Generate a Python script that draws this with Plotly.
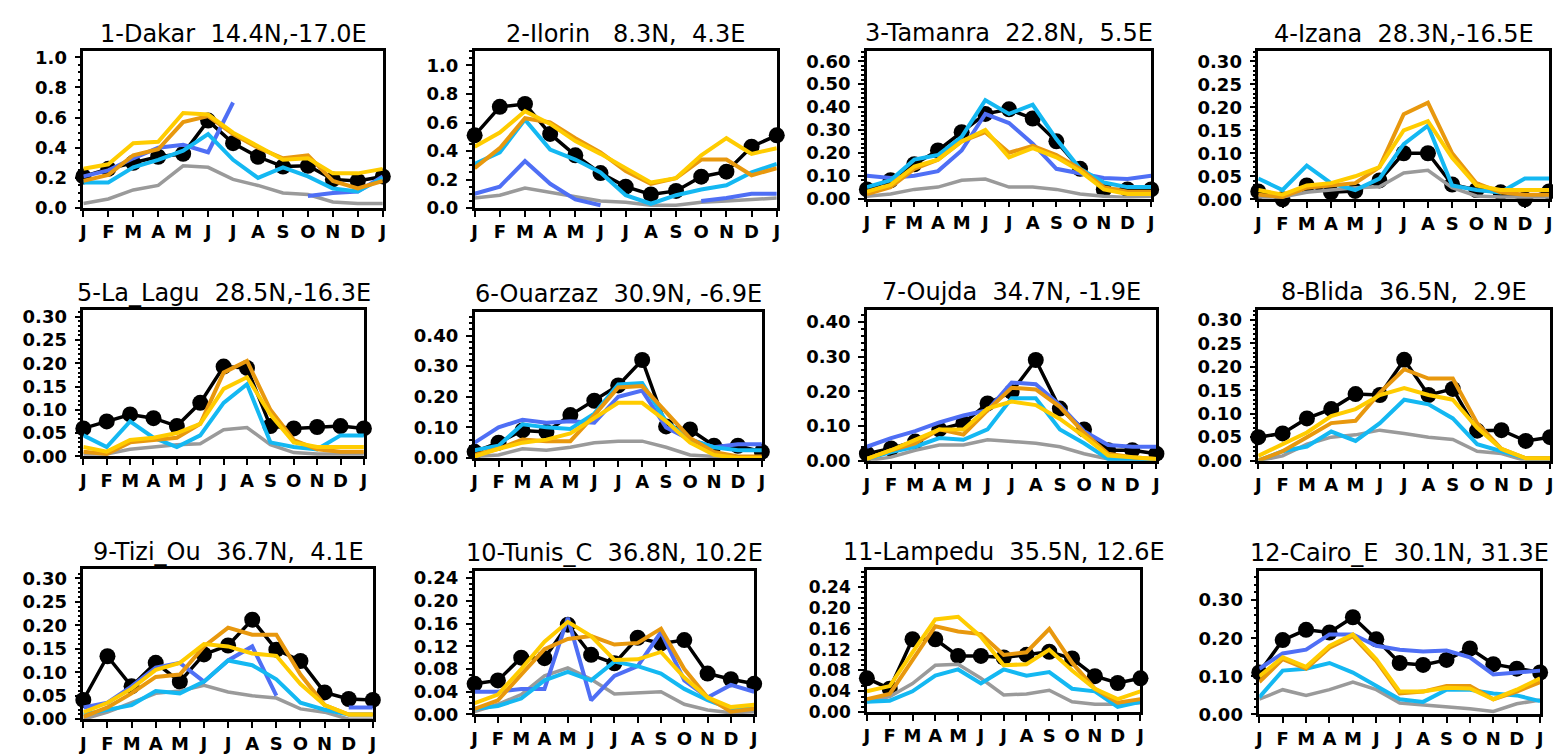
import plotly.graph_objects as go

months = ["J", "F", "M", "A", "M", "J", "J", "A", "S", "O", "N", "D", "J"]
N = None

# station titles: name, lat, lon
names = ["1-Dakar", "2-Ilorin", "3-Tamanra", "4-Izana", "5-La_Lagu", "6-Ouarzaz",
         "7-Oujda", "8-Blida", "9-Tizi_Ou", "10-Tunis_C", "11-Lampedu", "12-Cairo_E"]
lats = [14.4, 8.3, 22.8, 28.3, 28.5, 30.9, 34.7, 36.5, 36.7, 36.8, 35.5, 30.1]
lons = [-17.0, 4.3, 5.5, -16.5, -16.3, -6.9, -1.9, 2.9, 4.1, 10.2, 12.6, 31.3]

# ---- 1 Dakar
s1_obs = [0.21, 0.26, 0.30, 0.34, 0.36, 0.58, 0.43, 0.34, 0.275, 0.28, 0.19, 0.18, 0.21]
s1_blue = [0.21, 0.25, 0.33, 0.40, 0.42, 0.37, 0.70, N, N, 0.08, 0.10, 0.11, 0.21]
s1_cyan = [0.17, 0.17, 0.27, 0.32, 0.38, 0.49, 0.32, 0.20, 0.27, 0.21, 0.13, 0.11, 0.20]
s1_orange = [0.18, 0.22, 0.35, 0.39, 0.57, 0.61, 0.49, 0.40, 0.33, 0.35, 0.18, 0.13, 0.18]
s1_gold = [0.26, 0.29, 0.43, 0.44, 0.63, 0.62, 0.50, 0.41, 0.32, 0.33, 0.23, 0.23, 0.26]
s1_gray = [0.03, 0.06, 0.12, 0.15, 0.28, 0.27, 0.19, 0.15, 0.10, 0.09, 0.04, 0.03, 0.03]

# ---- 2 Ilorin
s2_obs = [0.51, 0.71, 0.73, 0.52, 0.37, 0.245, 0.15, 0.095, 0.12, 0.22, 0.255, 0.43, 0.51]
s2_blue = [0.10, 0.15, 0.33, 0.17, 0.06, 0.02, N, N, N, 0.05, 0.07, 0.10, 0.10]
s2_cyan = [0.31, 0.39, 0.62, 0.41, 0.34, 0.25, 0.09, 0.03, 0.09, 0.13, 0.16, 0.25, 0.31]
s2_orange = [0.28, 0.42, 0.63, 0.60, 0.49, 0.39, 0.26, 0.17, 0.21, 0.34, 0.34, 0.23, 0.28]
s2_gold = [0.43, 0.53, 0.68, 0.59, 0.47, 0.38, 0.28, 0.18, 0.21, 0.37, 0.49, 0.38, 0.42]
s2_gray = [0.07, 0.09, 0.14, 0.11, 0.08, 0.05, 0.04, 0.02, 0.02, 0.04, 0.05, 0.06, 0.07]

# ---- 3 Tamanra
s3_obs = [0.04, 0.08, 0.15, 0.21, 0.29, 0.37, 0.39, 0.35, 0.25, 0.13, 0.04, 0.04, 0.04]
s3_blue = [0.10, 0.09, 0.10, 0.12, 0.21, 0.37, 0.33, 0.24, 0.13, 0.11, 0.09, 0.085, 0.10]
s3_cyan = [0.05, 0.08, 0.17, 0.19, 0.27, 0.43, 0.37, 0.41, 0.26, 0.13, 0.07, 0.05, 0.05]
s3_orange = [0.02, 0.05, 0.13, 0.17, 0.25, 0.29, 0.20, 0.23, 0.19, 0.13, 0.05, 0.03, 0.03]
s3_gold = [0.03, 0.06, 0.14, 0.17, 0.25, 0.30, 0.18, 0.22, 0.18, 0.12, 0.04, 0.02, 0.02]
s3_gray = [0.01, 0.02, 0.04, 0.05, 0.08, 0.085, 0.05, 0.05, 0.04, 0.02, 0.01, 0.005, 0.01]

# ---- 4 Izana
s4_obs = [0.017, 0.0, 0.03, 0.015, 0.018, 0.041, 0.10, 0.10, 0.032, 0.02, 0.015, 0.0, 0.017]
s4_blue = [N] * 13
s4_cyan = [0.045, 0.02, 0.073, 0.035, 0.02, 0.045, 0.12, 0.16, 0.03, 0.02, 0.015, 0.045, 0.045]
s4_orange = [0.01, 0.005, 0.025, 0.03, 0.035, 0.07, 0.185, 0.21, 0.10, 0.035, 0.015, 0.01, 0.01]
s4_gold = [0.02, 0.01, 0.03, 0.035, 0.05, 0.07, 0.15, 0.17, 0.09, 0.03, 0.02, 0.02, 0.02]
s4_gray = [0.005, 0.005, 0.015, 0.02, 0.025, 0.027, 0.057, 0.063, 0.025, 0.007, 0.005, 0.005, 0.005]

# ---- 5 La_Lagu
s5_obs = [0.06, 0.075, 0.09, 0.082, 0.065, 0.115, 0.193, 0.19, 0.065, 0.06, 0.063, 0.065, 0.06]
s5_blue = [N] * 13
s5_cyan = [0.045, 0.02, 0.075, 0.04, 0.02, 0.045, 0.115, 0.155, 0.03, 0.02, 0.015, 0.045, 0.045]
s5_orange = [0.01, 0.005, 0.03, 0.035, 0.04, 0.07, 0.18, 0.205, 0.10, 0.035, 0.015, 0.01, 0.01]
s5_gold = [0.02, 0.01, 0.035, 0.04, 0.05, 0.07, 0.145, 0.17, 0.09, 0.03, 0.02, 0.02, 0.02]
s5_gray = [0.005, 0.005, 0.015, 0.02, 0.025, 0.027, 0.057, 0.062, 0.025, 0.008, 0.005, 0.005, 0.005]

# ---- 6 Ouarzaz
s6_obs = [0.02, 0.05, 0.09, 0.085, 0.14, 0.187, 0.237, 0.32, 0.103, 0.093, 0.04, 0.04, 0.02]
s6_blue = [0.05, 0.10, 0.125, 0.115, 0.12, 0.115, 0.20, 0.22, 0.10, 0.06, 0.035, 0.045, 0.045]
s6_cyan = [0.025, 0.04, 0.11, 0.10, 0.095, 0.145, 0.24, 0.245, 0.12, 0.06, 0.035, 0.025, 0.025]
s6_orange = [0.01, 0.03, 0.06, 0.055, 0.055, 0.14, 0.23, 0.235, 0.15, 0.065, 0.02, 0.005, 0.005]
s6_gold = [0.005, 0.03, 0.05, 0.06, 0.08, 0.13, 0.18, 0.18, 0.12, 0.05, 0.01, 0.0, 0.0]
s6_gray = [0.005, 0.01, 0.03, 0.025, 0.035, 0.05, 0.055, 0.055, 0.035, 0.01, 0.005, 0.0, 0.0]

# ---- 7 Oujda
s7_obs = [0.02, 0.035, 0.055, 0.09, 0.108, 0.165, 0.198, 0.29, 0.15, 0.09, 0.03, 0.03, 0.02]
s7_blue = [0.04, 0.065, 0.085, 0.11, 0.13, 0.145, 0.225, 0.22, 0.16, 0.085, 0.045, 0.04, 0.04]
s7_cyan = [0.005, 0.025, 0.04, 0.065, 0.06, 0.09, 0.18, 0.18, 0.09, 0.05, 0.005, 0.005, 0.005]
s7_orange = [0.005, 0.03, 0.05, 0.09, 0.075, 0.145, 0.21, 0.205, 0.155, 0.08, 0.02, 0.01, 0.005]
s7_gold = [0.005, 0.03, 0.06, 0.09, 0.09, 0.15, 0.17, 0.16, 0.12, 0.07, 0.015, 0.01, 0.005]
s7_gray = [0.0, 0.01, 0.03, 0.045, 0.045, 0.06, 0.055, 0.05, 0.04, 0.02, 0.005, 0.0, 0.0]

# ---- 8 Blida
s8_obs = [0.05, 0.058, 0.09, 0.11, 0.142, 0.14, 0.215, 0.14, 0.153, 0.064, 0.065, 0.042, 0.05]
s8_blue = [N] * 13
s8_cyan = [0.0, 0.02, 0.03, 0.062, 0.042, 0.08, 0.13, 0.12, 0.09, 0.035, 0.02, 0.005, 0.005]
s8_orange = [0.0, 0.02, 0.05, 0.08, 0.085, 0.145, 0.195, 0.175, 0.175, 0.08, 0.025, 0.005, 0.005]
s8_gold = [0.01, 0.035, 0.06, 0.095, 0.11, 0.14, 0.155, 0.14, 0.13, 0.07, 0.025, 0.005, 0.005]
s8_gray = [0.0, 0.01, 0.035, 0.05, 0.055, 0.065, 0.058, 0.05, 0.045, 0.02, 0.015, 0.0, 0.0]

# ---- 9 Tizi_Ou
s9_obs = [0.041, 0.134, 0.07, 0.12, 0.08, 0.138, 0.157, 0.212, 0.148, 0.124, 0.057, 0.043, 0.041]
s9_blue = [0.025, 0.035, 0.07, 0.11, 0.12, 0.08, 0.125, 0.155, 0.05, N, N, 0.025, 0.025]
s9_cyan = [0.01, 0.02, 0.03, 0.06, 0.055, 0.08, 0.125, 0.115, 0.085, 0.035, 0.02, 0.01, 0.01]
s9_orange = [0.005, 0.025, 0.055, 0.09, 0.095, 0.155, 0.195, 0.18, 0.18, 0.095, 0.03, 0.01, 0.01]
s9_gold = [0.015, 0.035, 0.065, 0.105, 0.12, 0.16, 0.155, 0.14, 0.135, 0.075, 0.03, 0.01, 0.01]
s9_gray = [0.0, 0.015, 0.035, 0.055, 0.06, 0.072, 0.058, 0.05, 0.045, 0.022, 0.015, 0.0, 0.0]

# ---- 10 Tunis_C
s10_obs = [0.054, 0.06, 0.10, 0.099, 0.158, 0.105, 0.09, 0.135, 0.125, 0.131, 0.072, 0.062, 0.054]
s10_blue = [0.04, 0.04, 0.045, 0.045, 0.17, 0.025, 0.068, 0.085, 0.145, 0.06, 0.03, 0.052, 0.04]
s10_cyan = [0.01, 0.015, 0.028, 0.06, 0.075, 0.06, 0.093, 0.085, 0.072, 0.045, 0.025, 0.01, 0.01]
s10_orange = [0.01, 0.025, 0.07, 0.115, 0.133, 0.138, 0.123, 0.126, 0.151, 0.08, 0.03, 0.005, 0.01]
s10_gold = [0.02, 0.035, 0.08, 0.128, 0.163, 0.138, 0.096, 0.097, 0.11, 0.065, 0.03, 0.013, 0.017]
s10_gray = [0.005, 0.018, 0.035, 0.068, 0.082, 0.062, 0.036, 0.038, 0.04, 0.018, 0.008, 0.003, 0.005]

# ---- 11 Lampedu
s11_obs = [0.065, 0.045, 0.14, 0.14, 0.108, 0.108, 0.105, 0.11, 0.116, 0.103, 0.069, 0.056, 0.065]
s11_blue = [N] * 13
s11_cyan = [0.02, 0.022, 0.04, 0.07, 0.082, 0.055, 0.082, 0.07, 0.077, 0.045, 0.04, 0.01, 0.02]
s11_orange = [0.025, 0.035, 0.10, 0.165, 0.155, 0.15, 0.11, 0.115, 0.16, 0.095, 0.045, 0.018, 0.025]
s11_gold = [0.04, 0.05, 0.115, 0.178, 0.183, 0.145, 0.09, 0.092, 0.12, 0.08, 0.045, 0.025, 0.04]
s11_gray = [0.02, 0.03, 0.055, 0.09, 0.092, 0.065, 0.033, 0.035, 0.042, 0.02, 0.015, 0.015, 0.018]

# ---- 12 Cairo_E
s12_obs = [0.11, 0.195, 0.222, 0.215, 0.255, 0.197, 0.135, 0.13, 0.143, 0.173, 0.132, 0.12, 0.11]
s12_blue = [0.12, 0.16, 0.17, 0.21, 0.21, 0.18, 0.17, 0.165, 0.168, 0.15, 0.105, 0.11, 0.115]
s12_cyan = [0.045, 0.115, 0.12, 0.135, 0.11, 0.075, 0.04, 0.033, 0.065, 0.065, 0.055, 0.05, 0.035]
s12_orange = [0.085, 0.145, 0.12, 0.175, 0.205, 0.14, 0.055, 0.06, 0.075, 0.075, 0.04, 0.06, 0.085]
s12_gold = [0.10, 0.15, 0.125, 0.18, 0.21, 0.145, 0.06, 0.06, 0.07, 0.068, 0.04, 0.065, 0.095]
s12_gray = [0.04, 0.065, 0.05, 0.065, 0.085, 0.065, 0.03, 0.025, 0.022, 0.015, 0.008, 0.028, 0.038]

# y-axis settings per panel
y_max = [1.04, 1.10, 0.647, 0.322, 0.314, 0.477, 0.435, 0.322, 0.319, 0.253, 0.273, 0.377]
y_dtick = [0.2, 0.2, 0.1, 0.05, 0.05, 0.1, 0.1, 0.05, 0.05, 0.04, 0.04, 0.1]
y_minor = [0.05, 0.05, 0.02, 0.01, 0.01, 0.02, 0.02, 0.01, 0.01, 0.01, 0.01, 0.02]
y_fmt = [".1f", ".1f"] + [".2f"] * 10
y_font = [18, 18, 18, 18, 18, 18, 18, 18, 18, 18, 17, 18]

series = [
    (s1_obs, s1_gray, s1_blue, s1_cyan, s1_orange, s1_gold),
    (s2_obs, s2_gray, s2_blue, s2_cyan, s2_orange, s2_gold),
    (s3_obs, s3_gray, s3_blue, s3_cyan, s3_orange, s3_gold),
    (s4_obs, s4_gray, s4_blue, s4_cyan, s4_orange, s4_gold),
    (s5_obs, s5_gray, s5_blue, s5_cyan, s5_orange, s5_gold),
    (s6_obs, s6_gray, s6_blue, s6_cyan, s6_orange, s6_gold),
    (s7_obs, s7_gray, s7_blue, s7_cyan, s7_orange, s7_gold),
    (s8_obs, s8_gray, s8_blue, s8_cyan, s8_orange, s8_gold),
    (s9_obs, s9_gray, s9_blue, s9_cyan, s9_orange, s9_gold),
    (s10_obs, s10_gray, s10_blue, s10_cyan, s10_orange, s10_gold),
    (s11_obs, s11_gray, s11_blue, s11_cyan, s11_orange, s11_gold),
    (s12_obs, s12_gray, s12_blue, s12_cyan, s12_orange, s12_gold),
]

# panel frames in pixels: left, right, top, bottom
frames = [
    (70.7, 371.7, 39, 199), (464, 767.7, 39, 199), (858.3, 1144, 38.3, 189.3), (1251.7, 1544, 39, 190),
    (70.7, 352.7, 303.3, 452.3), (464, 752.7, 305, 454), (858.3, 1149.3, 302.7, 456.7), (1251.7, 1545, 302.7, 456.7),
    (70.7, 361.7, 567.7, 720.5), (464, 745, 569, 715.7), (858.3, 1133.3, 568.3, 713.3), (1252.7, 1535, 569, 715.7),
]

W, H = 1561, 755
colors = {"gray": "#9a9a9a", "blue": "#4f6ff5", "cyan": "#14b8f2",
          "orange": "#e8980e", "gold": "#ffcc00"}
x = list(range(13))

fig = go.Figure()
layout = dict(width=W, height=H, margin=dict(l=0, r=0, t=0, b=0),
              paper_bgcolor="white", plot_bgcolor="white", showlegend=False,
              annotations=[])

NB = "\u00a0"
for i in range(12):
    k = "" if i == 0 else str(i + 1)
    xa, ya = "x" + k, "y" + k
    obs, gray, blue, cyan, orange, gold = series[i]
    fig.add_trace(go.Scatter(x=x, y=obs, xaxis=xa, yaxis=ya, mode="lines+markers",
                             line=dict(color="black", width=3.5),
                             marker=dict(color="black", size=16), cliponaxis=False,
                             name="OBS"))
    for nm, data, w in (("gray", gray, 3.5), ("blue", blue, 4), ("cyan", cyan, 4),
                        ("orange", orange, 4), ("gold", gold, 4)):
        if all(v is None for v in data):
            continue
        fig.add_trace(go.Scatter(x=x, y=data, xaxis=xa, yaxis=ya, mode="lines",
                                 line=dict(color=colors[nm], width=w),
                                 cliponaxis=False, name=nm, connectgaps=False))
    l, r, t, b = frames[i]
    layout["xaxis" + k] = dict(
        domain=[l / W, r / W], anchor=ya, range=[0, 12],
        tickmode="array", tickvals=x, ticktext=months,
        ticks="outside", ticklen=6, tickwidth=2, tickcolor="black",
        showline=True, linecolor="black", linewidth=2.5, mirror=True,
        showgrid=False, zeroline=False,
        tickfont=dict(family="DejaVu Sans", size=18, color="black", weight="bold"))
    layout["yaxis" + k] = dict(
        domain=[1 - b / H, 1 - t / H], anchor=xa, range=[0, y_max[i]],
        tick0=0, dtick=y_dtick[i], tickformat=y_fmt[i],
        ticks="outside", ticklen=6, tickwidth=2, tickcolor="black",
        minor=dict(dtick=y_minor[i], tick0=0, ticks="outside", ticklen=3,
                   tickwidth=1.5, tickcolor="black", showgrid=False),
        showline=True, linecolor="black", linewidth=2.5, mirror=True,
        showgrid=False, zeroline=False, ticklabelstandoff=4,
        tickfont=dict(family="DejaVu Sans", size=y_font[i], color="black", weight="bold"))
    lat_s = ("%5.1f" % lats[i]).replace(" ", NB)
    lon_s = ("%5.1f" % lons[i]).replace(" ", NB)
    title = names[i] + NB + lat_s + "N," + lon_s + "E"
    layout["annotations"].append(dict(
        text=title, xref="paper", yref="paper", x=(l + r) / 2 / W,
        y=1 - (t - 18) / H, xanchor="center", yanchor="middle", showarrow=False,
        font=dict(family="DejaVu Sans", size=24, color="black")))

fig.update_layout(**layout)
fig.write_html("out.html")
